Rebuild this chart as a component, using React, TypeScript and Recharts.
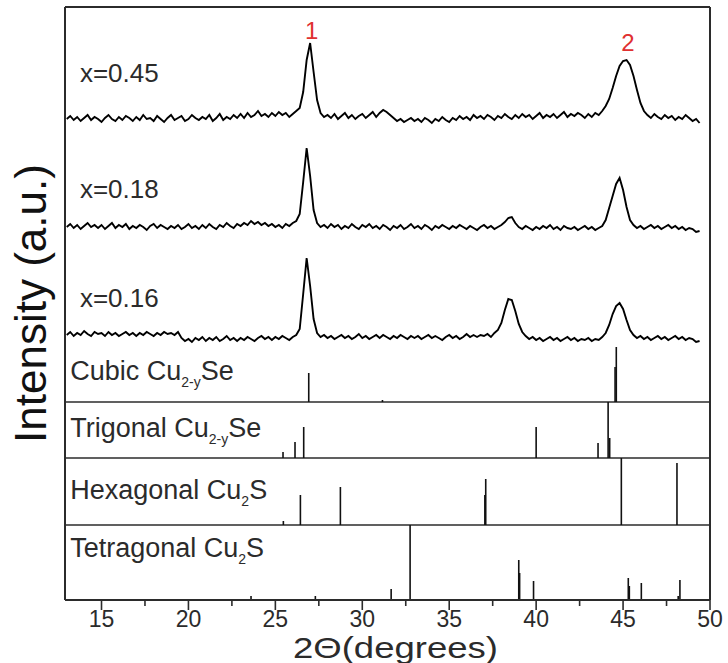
import React from "react";
import { ComposedChart, Line, XAxis, YAxis, ReferenceLine, ReferenceDot, Label } from "recharts";

// 2θ sampling positions (degrees)
const twoTheta = [
  13.0, 13.2, 13.4, 13.6, 13.8, 14.0, 14.2, 14.4, 14.6, 14.8,
  15.0, 15.2, 15.4, 15.6, 15.8, 16.0, 16.2, 16.4, 16.6, 16.8,
  17.0, 17.2, 17.4, 17.6, 17.8, 18.0, 18.2, 18.4, 18.6, 18.8,
  19.0, 19.2, 19.4, 19.6, 19.8, 20.0, 20.2, 20.4, 20.6, 20.8,
  21.0, 21.2, 21.4, 21.6, 21.8, 22.0, 22.2, 22.4, 22.6, 22.8,
  23.0, 23.2, 23.4, 23.6, 23.8, 24.0, 24.2, 24.4, 24.6, 24.8,
  25.0, 25.2, 25.4, 25.6, 25.8, 26.0, 26.2, 26.4, 26.6, 26.8,
  27.0, 27.2, 27.4, 27.6, 27.8, 28.0, 28.2, 28.4, 28.6, 28.8,
  29.0, 29.2, 29.4, 29.6, 29.8, 30.0, 30.2, 30.4, 30.6, 30.8,
  31.0, 31.2, 31.4, 31.6, 31.8, 32.0, 32.2, 32.4, 32.6, 32.8,
  33.0, 33.2, 33.4, 33.6, 33.8, 34.0, 34.2, 34.4, 34.6, 34.8,
  35.0, 35.2, 35.4, 35.6, 35.8, 36.0, 36.2, 36.4, 36.6, 36.8,
  37.0, 37.2, 37.4, 37.6, 37.8, 38.0, 38.2, 38.4, 38.6, 38.8,
  39.0, 39.2, 39.4, 39.6, 39.8, 40.0, 40.2, 40.4, 40.6, 40.8,
  41.0, 41.2, 41.4, 41.6, 41.8, 42.0, 42.2, 42.4, 42.6, 42.8,
  43.0, 43.2, 43.4, 43.6, 43.8, 44.0, 44.2, 44.4, 44.6, 44.8,
  45.0, 45.2, 45.4, 45.6, 45.8, 46.0, 46.2, 46.4, 46.6, 46.8,
  47.0, 47.2, 47.4, 47.6, 47.8, 48.0, 48.2, 48.4, 48.6, 48.8,
  49.0, 49.2, 49.4,
];

// stacked intensities (a.u., offset already included)
const intensityX045 = [
  451, 454, 450, 453, 449, 452, 455, 450, 453, 451,
  448, 452, 455, 451, 449, 453, 450, 454, 452, 449,
  453, 450, 455, 451, 452, 449, 454, 451, 448, 452,
  455, 450, 452, 454, 449, 451, 455, 452, 450, 453,
  451, 455, 449, 452, 456, 450, 453, 451, 455, 452,
  456, 452, 457, 453, 455, 459, 454, 456, 453, 457,
  454, 458, 455, 457, 453, 456, 459, 462, 478, 510,
  527, 498, 470, 457, 453, 455, 452, 456, 451, 454,
  457, 452, 455, 451, 454, 456, 452, 455, 458, 453,
  457, 460, 458, 455, 452, 449, 451, 448, 450, 452,
  449, 451, 448, 452, 450, 447, 451, 449, 453, 450,
  448, 452, 450, 454, 451, 453, 450, 455, 452, 454,
  451, 455, 453, 450, 454, 452, 456, 453, 451, 455,
  452, 456, 453, 455, 451, 454, 457, 452, 455, 453,
  456, 452, 455, 458, 453, 456, 454, 457, 455, 452,
  456, 453, 457, 455, 459, 464, 471, 482, 494, 504,
  509, 510, 505, 494, 480, 467, 459, 455, 452, 456,
  453, 451, 455, 452, 454, 450, 453, 451, 455, 452,
  449, 451, 447,
];

const intensityX018 = [
  343, 346, 342, 345, 341, 344, 347, 343, 345, 342,
  345, 341, 344, 347, 342, 345, 343, 346, 341, 344,
  342, 345, 343, 340, 344, 346, 342, 345, 343, 341,
  344, 342, 345, 341, 343, 346, 342, 344, 341, 345,
  342, 346, 343, 341, 345, 343, 347, 344, 342, 346,
  344, 347, 345, 349, 346, 348, 345, 347, 344, 346,
  343, 345, 342, 346, 344, 347, 349, 356, 388, 422,
  394, 360, 347, 343, 345, 342, 346, 343, 345, 341,
  344, 342, 346, 343, 341, 345, 343, 346, 342, 344,
  341, 345, 343, 340, 344, 342, 345, 341, 343, 346,
  342, 344, 341, 345, 343, 340, 344, 342, 345, 343,
  341, 344, 342, 345, 343, 341, 344, 342, 340, 343,
  345, 342, 344, 341, 343, 345, 348, 352, 353, 347,
  343, 341, 344, 342, 340, 343, 341, 344, 342, 345,
  341, 343, 340, 344, 342, 341, 343, 340, 342, 344,
  341, 343, 340, 342, 344, 350, 362, 374, 386, 392,
  380, 363, 350, 345, 342, 344, 341, 343, 345, 342,
  344, 341, 343, 345, 342, 344, 341, 343, 340, 342,
  341, 338, 339,
];

const intensityX016 = [
  235, 238, 234, 237, 235, 239, 236, 234, 238, 236,
  237, 234, 238, 235, 237, 234, 236, 238, 235, 237,
  234, 237, 235, 238, 236, 234, 237, 235, 238, 236,
  237, 235, 238, 232, 229, 231, 228, 232, 230, 233,
  229, 232, 230, 233, 229, 231, 234, 230, 232, 229,
  232, 230, 233, 231, 229, 232, 234, 231, 233, 230,
  233, 231, 234, 232, 230, 233, 235, 241, 276, 312,
  284, 251, 237, 233, 235, 232, 234, 231, 233, 235,
  232, 234, 231, 233, 236, 232, 234, 231, 233, 235,
  232, 235, 233, 231, 234, 232, 235, 233, 231, 234,
  232, 234, 231, 233, 235, 232, 234, 232, 230, 233,
  235, 232, 234, 231, 233, 236, 233, 235, 233, 235,
  234, 236, 233, 237, 240, 247, 260, 271, 270, 259,
  246, 238, 234, 231, 233, 230, 232, 229, 231, 233,
  230, 232, 229, 231, 233, 230, 232, 229, 231, 230,
  232, 229, 231, 230, 233, 237, 245, 256, 264, 267,
  261, 250, 240, 235, 232, 234, 231, 233, 230, 232,
  234, 231, 233, 230, 232, 234, 231, 233, 230, 232,
  231, 228, 229,
];

// reference patterns: positions (2θ) and relative stick heights
const cubicPos = [26.92, 31.16, 44.61, 44.54];
const cubicInt = [29, 2, 55, 35];
const trigonalPos = [25.44, 26.13, 26.63, 40.0, 43.56, 44.14, 44.23];
const trigonalInt = [6, 16, 31, 31, 15, 56, 20];
const hexagonalPos = [25.46, 26.44, 28.74, 37.1, 37.05, 44.9, 48.1];
const hexagonalInt = [4, 30, 38, 46, 30, 67, 62];
const tetragonalPos = [23.6, 27.3, 31.66, 32.75, 39.0, 39.05, 39.85, 45.3, 45.36, 46.05, 48.27, 48.17];
const tetragonalInt = [4, 4, 11, 75, 40, 27, 19, 22, 14, 17, 20, 4];

const majorTicks = [15, 20, 25, 30, 35, 40, 45, 50];
const allTicks = [15, 17.5, 20, 22.5, 25, 27.5, 30, 32.5, 35, 37.5, 40, 42.5, 45, 47.5, 50];

const FONT = "'Liberation Sans', Arial, sans-serif";
const INK = "#2b2b2b";

const seriesOf = (ys: number[]) => twoTheta.map((x, i) => ({ x, y: ys[i] }));
const s045 = seriesOf(intensityX045);
const s018 = seriesOf(intensityX018);
const s016 = seriesOf(intensityX016);

const Y_MIN = -30;
const Y_MAX = 563;
const CUBIC_BASE = 168;
const TRIG_BASE = 112;
const HEX_BASE = 45;
const TET_BASE = -30;

const AxisTick = (props: any) => {
  const { x, y, payload } = props;
  const v = payload.value;
  const major = majorTicks.includes(v);
  return (
    <g>
      <line x1={x} y1={y} x2={x} y2={y + (major ? 10 : 6)} stroke={INK} strokeWidth={1.6} />
      {major && (
        <text x={x} y={y + 19} textAnchor="middle" dominantBaseline="central" fontSize={23} fill={INK} fontFamily={FONT}>
          {v}
        </text>
      )}
    </g>
  );
};

const TextAt = (props: any) => {
  const { cx, cy, main, sub, tail, size, color } = props;
  return (
    <text x={cx} y={cy} dominantBaseline="central" fontSize={size} fill={color || INK} fontFamily={FONT}>
      {main}
      {sub && (
        <tspan fontSize={14} dy={11}>
          {sub}
        </tspan>
      )}
      {tail && <tspan dy={sub ? -11 : 0} fontSize={size}>{tail}</tspan>}
    </text>
  );
};

const sticks = (pos: number[], ht: number[], base: number, key: string) =>
  pos.map((p, i) => (
    <ReferenceLine
      key={key + i}
      segment={[
        { x: p, y: base },
        { x: p, y: base + ht[i] },
      ]}
      stroke="#111"
      strokeWidth={1.6}
      ifOverflow="visible"
    />
  ));

export default function App() {
  return (
    <div style={{ position: "absolute", left: 0, top: 0, width: 728, height: 663, background: "#fff" }}>
      <ComposedChart width={728} height={663} margin={{ top: 7, right: 18, bottom: 0, left: 0 }}>
        <XAxis
          type="number"
          dataKey="x"
          domain={[12.9, 50]}
          ticks={allTicks}
          interval={0}
          allowDataOverflow
          tickSize={0}
          tickMargin={0}
          tickLine={false}
          tick={<AxisTick />}
          height={63}
          axisLine={{ stroke: INK, strokeWidth: 2 }}
        >
          <Label
            content={(p: any) => {
              const vb = p.viewBox;
              return (
                <text
                  x={vb.x + vb.width / 2 + 8}
                  y={vb.y + 48}
                  textAnchor="middle"
                  dominantBaseline="central"
                  fontSize={29}
                  textLength={205}
                  lengthAdjust="spacingAndGlyphs"
                  fill={INK}
                  fontFamily={FONT}
                >
                  2Θ(degrees)
                </text>
              );
            }}
          />
        </XAxis>
        <YAxis
          type="number"
          domain={[Y_MIN, Y_MAX]}
          allowDataOverflow
          width={65}
          tick={false}
          tickLine={false}
          axisLine={{ stroke: INK, strokeWidth: 2 }}
        >
          <Label
            content={(p: any) => {
              const vb = p.viewBox;
              const cx = vb.x + 30;
              const cy = vb.y + vb.height / 2;
              return (
                <text
                  x={cx}
                  y={cy}
                  transform={`rotate(-90, ${cx}, ${cy})`}
                  textAnchor="middle"
                  dominantBaseline="central"
                  fontSize={44}
                  fill="#111"
                  fontFamily={FONT}
                >
                  Intensity (a.u.)
                </text>
              );
            }}
          />
        </YAxis>

        <ReferenceLine y={Y_MAX} stroke={INK} strokeWidth={2} ifOverflow="visible" />
        <ReferenceLine x={50} stroke={INK} strokeWidth={2} ifOverflow="visible" />
        <ReferenceLine y={CUBIC_BASE} stroke={INK} strokeWidth={1.6} />
        <ReferenceLine y={TRIG_BASE} stroke={INK} strokeWidth={1.6} />
        <ReferenceLine y={HEX_BASE} stroke={INK} strokeWidth={1.6} />

        {sticks(cubicPos, cubicInt, CUBIC_BASE, "c")}
        {sticks(trigonalPos, trigonalInt, TRIG_BASE, "t")}
        {sticks(hexagonalPos, hexagonalInt, HEX_BASE, "h")}
        {sticks(tetragonalPos, tetragonalInt, TET_BASE, "q")}

        <Line data={s045} dataKey="y" type="linear" stroke="#000" strokeWidth={1.9} dot={false} isAnimationActive={false} />
        <Line data={s018} dataKey="y" type="linear" stroke="#000" strokeWidth={1.9} dot={false} isAnimationActive={false} />
        <Line data={s016} dataKey="y" type="linear" stroke="#000" strokeWidth={1.9} dot={false} isAnimationActive={false} />

        <ReferenceDot x={13.76} y={497} r={0} ifOverflow="visible" shape={(p: any) => <TextAt cx={p.cx} cy={p.cy} main="x=0.45" size={26} />} />
        <ReferenceDot x={13.76} y={381} r={0} ifOverflow="visible" shape={(p: any) => <TextAt cx={p.cx} cy={p.cy} main="x=0.18" size={26} />} />
        <ReferenceDot x={13.76} y={272} r={0} ifOverflow="visible" shape={(p: any) => <TextAt cx={p.cx} cy={p.cy} main="x=0.16" size={26} />} />

        <ReferenceDot x={13.2} y={199} r={0} ifOverflow="visible" shape={(p: any) => <TextAt cx={p.cx} cy={p.cy} main="Cubic Cu" sub="2-y" tail="Se" size={27} />} />
        <ReferenceDot x={13.2} y={142} r={0} ifOverflow="visible" shape={(p: any) => <TextAt cx={p.cx} cy={p.cy} main="Trigonal Cu" sub="2-y" tail="Se" size={27} />} />
        <ReferenceDot x={13.2} y={80} r={0} ifOverflow="visible" shape={(p: any) => <TextAt cx={p.cx} cy={p.cy} main="Hexagonal Cu" sub="2" tail="S" size={27} />} />
        <ReferenceDot x={13.2} y={22} r={0} ifOverflow="visible" shape={(p: any) => <TextAt cx={p.cx} cy={p.cy} main="Tetragonal Cu" sub="2" tail="S" size={27} />} />

        <ReferenceDot x={26.7} y={540} r={0} ifOverflow="visible" shape={(p: any) => <TextAt cx={p.cx} cy={p.cy} main="1" size={24} color="#e03030" />} />
        <ReferenceDot x={44.9} y={528} r={0} ifOverflow="visible" shape={(p: any) => <TextAt cx={p.cx} cy={p.cy} main="2" size={24} color="#e03030" />} />
      </ComposedChart>
    </div>
  );
}
